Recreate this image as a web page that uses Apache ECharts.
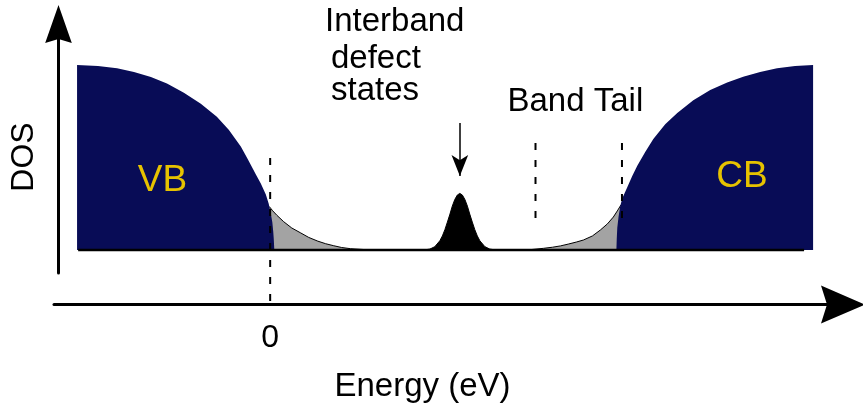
<!DOCTYPE html>
<html>
<head>
<meta charset="utf-8">
<script src="https://cdn.jsdelivr.net/npm/echarts@6/dist/echarts.min.js"></script>
<style>
  html, body { margin: 0; padding: 0; background: #ffffff; }
  #chart { width: 863px; height: 410px; }
</style>
</head>
<body>
<div id="chart"></div>
<script>
// Energy axis (eV, 0 = valence band edge) and density of states (arb. units).
const vbEnergy = [-1.072, -0.956, -0.850, -0.756, -0.662, -0.573, -0.479, -0.385, -0.296, -0.230,
                  -0.163, -0.124, -0.080, -0.052, -0.024, -0.008, 0.003, 0.012, 0.017, 0.020, 0.023];
const vbDos    = [1.0, 0.995, 0.982, 0.962, 0.935, 0.90, 0.85, 0.79, 0.72, 0.65,
                  0.56, 0.49, 0.41, 0.36, 0.30, 0.25, 0.20, 0.15, 0.10, 0.06, 0];

const cbEnergy = [1.922, 1.924, 1.927, 1.934, 1.944, 1.955, 1.983, 2.010, 2.038, 2.082, 2.127,
                  2.193, 2.260, 2.349, 2.443, 2.537, 2.626, 2.720, 2.814, 2.914, 3.014];
const cbDos    = [0, 0.06, 0.12, 0.18, 0.24, 0.28, 0.34, 0.40, 0.455, 0.53, 0.60,
                  0.68, 0.74, 0.81, 0.865, 0.905, 0.937, 0.962, 0.982, 0.995, 1.0];

const vbTailEnergy = [-0.005, 0.014, 0.037, 0.075, 0.120, 0.170, 0.214, 0.264, 0.308, 0.353, 0.397, 0.447, 0.530, 0.613];
const vbTailDos    = [0.235, 0.212, 0.188, 0.153, 0.119, 0.092, 0.068, 0.048, 0.034, 0.023, 0.0135, 0.007, 0.002, 0];

const cbTailEnergy = [1.362, 1.445, 1.517, 1.567, 1.611, 1.655, 1.700, 1.739, 1.789, 1.833, 1.872, 1.905, 1.927, 1.947];
const cbTailDos    = [0, 0.002, 0.009, 0.015, 0.022, 0.032, 0.043, 0.054, 0.076, 0.108, 0.141, 0.178, 0.211, 0.243];

const defectEnergy = [0.859, 0.887, 0.914, 0.942, 0.956, 0.970, 0.984, 0.998, 1.011, 1.025, 1.039, 1.053,
                      1.067, 1.081, 1.095, 1.108, 1.122, 1.136, 1.150, 1.164, 1.192, 1.219, 1.247];
const defectDos    = [0.001, 0.005, 0.018, 0.050, 0.076, 0.110, 0.151, 0.194, 0.237, 0.273, 0.297, 0.306,
                      0.297, 0.273, 0.237, 0.194, 0.151, 0.110, 0.076, 0.050, 0.018, 0.005, 0.001];

const baselineEnergy = [-1.066, 2.964];

// Dashed markers: band edge at 0 and the two limits of the band tail region
const edgeMarkerEnergy = [0, 1.473, 1.953];
const edgeMarkerTop    = [0.497, 0.578, 0.578];
const edgeMarkerBottom = [-0.314, 0.135, 0.135];

// Arrow pointing at the interband defect peak
const defectArrowFrom = [1.053, 0.686];
const defectArrowTo   = [1.053, 0.400];

const energyTicks = [0];

const FONT = '"Liberation Sans", Arial, sans-serif';
const NAVY = '#080c56';
const GREY = '#a3a3a3';
const GOLD = '#e6c200';

// Arrowheads with a shallow notch for the two axes
const ARROW_X = 'path://M19,0 L38,44 L19,38 L0,44 Z';
const ARROW_Y = 'path://M13.3,0 L26.6,38 L13.3,34 L0,38 Z';

const pairs = (xs, ys) => xs.map((x, i) => [x, ys[i]]);

function areaSeries(name, xs, ys, fill, stroke, z) {
  return {
    name: name, type: 'line', xAxisIndex: 0, yAxisIndex: 0,
    data: pairs(xs, ys), symbol: 'none', silent: true, z: z,
    lineStyle: stroke ? { color: stroke, width: 1 } : { width: 0, opacity: 0 },
    areaStyle: { color: fill, opacity: 1 }
  };
}

const series = [
  areaSeries('VB tail', vbTailEnergy, vbTailDos, GREY, '#000', 2),
  areaSeries('CB tail', cbTailEnergy, cbTailDos, GREY, '#000', 2),
  areaSeries('VB', vbEnergy, vbDos, NAVY, null, 3),
  areaSeries('CB', cbEnergy, cbDos, NAVY, null, 3),
  Object.assign(areaSeries('Defect states', defectEnergy, defectDos, '#000', '#000', 4), {
    markLine: {
      silent: true, symbol: ['none', 'arrow'], symbolSize: [12.5, 21],
      label: { show: false },
      lineStyle: { color: '#000', width: 1.5, type: 'solid' },
      data: [[{ coord: defectArrowFrom }, { coord: defectArrowTo }]]
    }
  }),
  {
    name: 'baseline', type: 'line', xAxisIndex: 0, yAxisIndex: 0, z: 5, silent: true,
    data: baselineEnergy.map(e => [e, 0]), symbol: 'none',
    lineStyle: { color: '#000', width: 2.5 }
  }
];

edgeMarkerEnergy.forEach((e, i) => {
  series.push({
    name: 'marker' + i, type: 'line', xAxisIndex: 0, yAxisIndex: 0, z: 6, silent: true, clip: false,
    data: [[e, edgeMarkerTop[i]], [e, edgeMarkerBottom[i]]], symbol: 'none',
    lineStyle: { color: '#000', width: 2, type: [7, 10] }
  });
});

const textStyle = (size, color) => ({ font: size + 'px ' + FONT, fill: color });
const label = (text, x, y, size, color, align) => ({
  type: 'text', x: x, y: y, silent: true, z: 10,
  style: Object.assign({ text: text, textAlign: align, textVerticalAlign: 'middle' }, textStyle(size, color))
});

const option = {
  animation: false,
  backgroundColor: '#ffffff',
  grid: [
    { left: 53, top: 9.5, width: 790, height: 295.075 },
    { left: 58.5, top: 24, width: 1, height: 249 }
  ],
  xAxis: [
    {
      type: 'value', gridIndex: 0, min: -1.2, max: 3.18,
      axisLine: { show: true, onZero: false, symbol: ['none', ARROW_X], symbolSize: [38, 44],
                  lineStyle: { color: '#000', width: 3 } },
      axisTick: { show: false },
      splitLine: { show: false },
      axisLabel: { show: true, customValues: energyTicks, margin: 18,
                   fontSize: 32, fontFamily: FONT, color: '#000',
                   formatter: v => (Math.abs(v) < 1e-9 ? '0' : '') }
    },
    { type: 'value', gridIndex: 1, show: false, min: 0, max: 1 }
  ],
  yAxis: [
    {
      type: 'value', gridIndex: 0, min: -0.295, max: 1.3,
      name: 'DOS', nameLocation: 'middle', nameRotate: 90, nameGap: 14,
      nameTextStyle: { fontSize: 32, fontFamily: FONT, color: '#000' },
      axisLine: { show: false }, axisTick: { show: false },
      axisLabel: { show: false }, splitLine: { show: false }
    },
    {
      type: 'value', gridIndex: 1, min: 0, max: 1,
      axisLine: { show: true, onZero: false, symbol: ['none', ARROW_Y], symbolSize: [26.6, 38],
                  lineStyle: { color: '#000', width: 3 } },
      axisTick: { show: false }, axisLabel: { show: false }, splitLine: { show: false }
    }
  ],
  graphic: [
    label('Interband', 325, 22, 33, '#000', 'left'),
    label('defect', 331, 59, 33, '#000', 'left'),
    label('states', 331, 90.5, 33, '#000', 'left'),
    label('Band Tail', 507.5, 102, 33, '#000', 'left'),
    label('VB', 162.5, 181, 37, GOLD, 'center'),
    label('CB', 742, 177, 37, GOLD, 'center'),
    label('Energy (eV)', 422.5, 387, 33, '#000', 'center')
  ],
  series: series
};

const chart = echarts.init(document.getElementById('chart'), null, { renderer: 'canvas' });
chart.setOption(option);
</script>
</body>
</html>
